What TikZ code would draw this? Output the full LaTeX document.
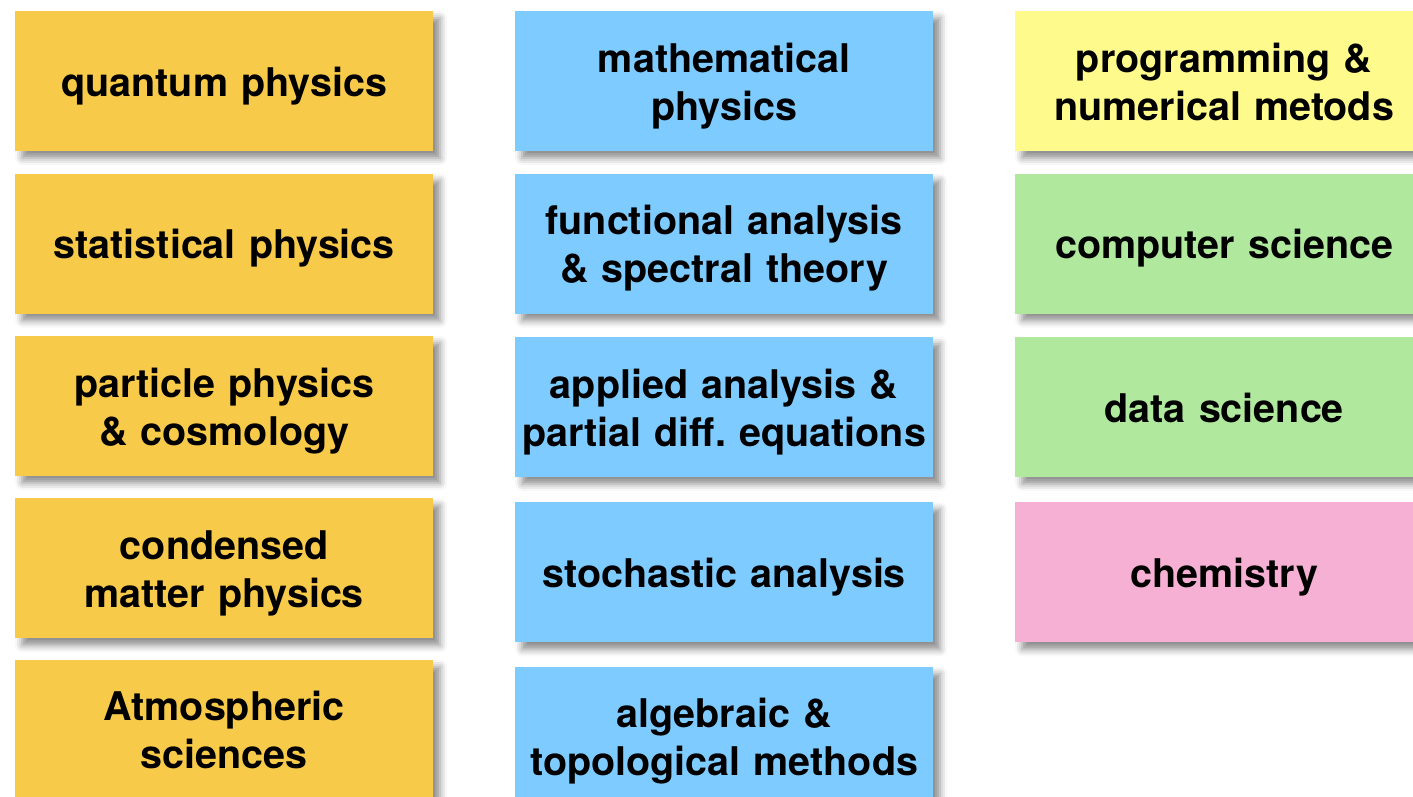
\documentclass[tikz,border=0pt]{standalone}
\usepackage{fontspec}
\setmainfont{TeX Gyre Heros}
\usepackage{xcolor}
\usetikzlibrary{positioning, shadows.blur}
\definecolor{physorange}{RGB}{248,202,74}
\definecolor{mathblue}{RGB}{126,204,255}
\definecolor{proglemon}{RGB}{255,250,140}
\definecolor{csgreen}{RGB}{176,232,157}
\definecolor{chempink}{RGB}{246,176,212}
\tikzset{
    card/.style={rectangle, minimum width=418pt, minimum height=140pt, text width=410pt, align=center,
        font=\fontsize{39.5}{48}\selectfont\bfseries, inner sep=0pt,
        execute at begin node={\rule{0pt}{40pt}},
        execute at end node={\rule[-10pt]{0pt}{10pt}},
        blur shadow={shadow xshift=7pt, shadow yshift=-7pt, shadow blur radius=7pt, shadow opacity=45}},
    physbox/.style={card, fill=physorange},
    mathbox/.style={card, fill=mathblue}
}

\begin{document}
\begin{tikzpicture}[x=1pt, y=1pt, node distance=22pt]
    \useasboundingbox (0,0) rectangle (1413,-797);
    \clip (0,0) rectangle (1413,-797);

    % Column 1: physics
    \node (quant) [physbox, anchor=north west] at (15,-11) {quantum physics};
    \node (stat) [physbox, below=22pt of quant] {statistical physics};
    \node (part) [physbox, below=22pt of stat] {particle physics\\ \& cosmology};
    \node (cond) [physbox, below=22pt of part] {condensed\\ matter physics};
    \node (atmo) [physbox, below=21pt of cond] {Atmospheric\\ sciences};

    % Column 2: mathematics
    \node (mphys) [mathbox, anchor=north west] at (515,-11) {mathematical\\ physics};
    \node (func) [mathbox, below=22pt of mphys] {functional analysis\\ \& spectral theory};
    \node (appl) [mathbox, below=23pt of func] {applied analysis \&\\ partial diff.\ equations};
    \node (stoch) [mathbox, below=25pt of appl] {stochastic analysis};
    \node (alg) [mathbox, below=24pt of stoch] {algebraic \&\\ topological methods};

    % Column 3: neighbouring fields
    \node (prog) [card, fill=proglemon, anchor=north west] at (1015,-11) {programming \&\\ numerical metods};
    \node (comp) [card, fill=csgreen, below=22pt of prog] {computer science};
    \node (data) [card, fill=csgreen, below=23pt of comp] {data science};
    \node (chem) [card, fill=chempink, below=25pt of data] {chemistry};
\end{tikzpicture}
\end{document}
